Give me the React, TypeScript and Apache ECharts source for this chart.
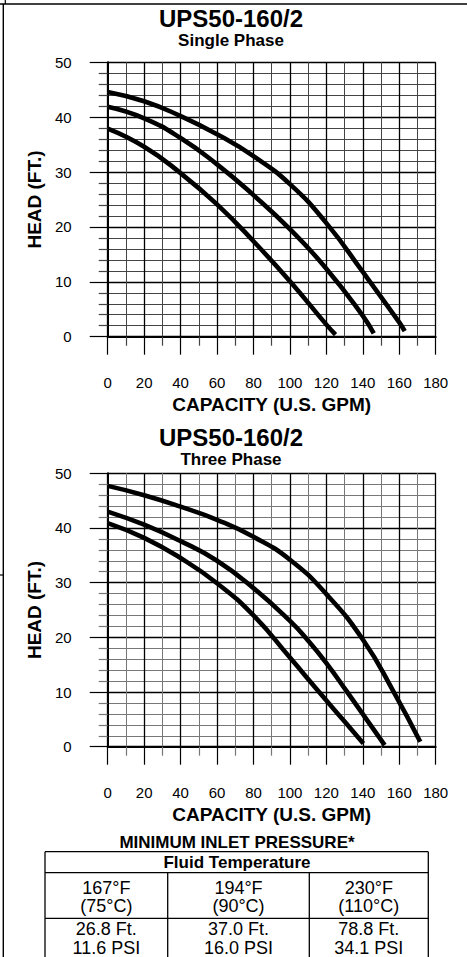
import React, { useEffect, useRef } from "react";
import * as echarts from "echarts";

// ---------- DATA ----------
const modelName = "UPS50-160/2";
const singleTitle = "Single Phase";
const threeTitle = "Three Phase";
const xAxisName = "CAPACITY (U.S. GPM)";
const yAxisName = "HEAD (FT.)";

// Single phase curves (GPM, head ft)
const singleHighGpm = [0, 20, 40, 60, 80, 100, 120, 140, 160, 163];
const singleHighHead = [44.6, 42.9, 40.2, 36.9, 32.9, 27.8, 20.7, 11.8, 2.6, 1.0];
const singleMidGpm = [0, 20, 40, 60, 80, 100, 120, 140, 146];
const singleMidHead = [41.9, 39.8, 36.2, 31.4, 25.8, 19.6, 12.4, 3.8, 0.6];
const singleLowGpm = [0, 20, 40, 60, 80, 100, 120, 125];
const singleLowHead = [37.9, 34.6, 29.8, 24.1, 17.4, 10.1, 2.2, 0.4];

// Three phase curves
const threeHighGpm = [0, 20, 40, 60, 80, 100, 120, 140, 157, 171.5];
const threeHighHead = [47.7, 46.0, 43.9, 41.5, 38.4, 34.2, 27.9, 19.6, 10.0, 0.9];
const threeMidGpm = [0, 20, 40, 60, 80, 100, 110, 120, 131, 152];
const threeMidHead = [43.0, 40.6, 37.6, 34.0, 29.0, 23.0, 19.4, 15.3, 10.2, 0.3];
const threeLowGpm = [0, 20, 40, 60, 80, 100, 116, 130, 140.3];
const threeLowHead = [40.9, 38.2, 34.5, 29.9, 24.0, 16.3, 10.0, 4.6, 0.6];

// Minimum inlet pressure table
const tableTitle = "MINIMUM INLET PRESSURE*";
const tableHeader = "Fluid Temperature";
const tempF = ["167°F", "194°F", "230°F"];
const tempC = ["(75°C)", "(90°C)", "(110°C)"];
const headFt = ["26.8 Ft.", "37.0 Ft.", "78.8 Ft."];
const pressurePsi = ["11.6 PSI", "16.0 PSI", "34.1 PSI"];

// ---------- LAYOUT ----------
const FONT = '"Liberation Sans", Arial, Helvetica, sans-serif';
const W = 467;
const H = 957;

const pair = (xs: number[], ys: number[]) => xs.map((x, i) => [x, ys[i]]);

function axes(gridIndex: number, minorColor: string) {
  const xAxis = {
    type: "value",
    gridIndex,
    min: 0,
    max: 180,
    interval: 20,
    name: xAxisName,
    nameLocation: "middle",
    nameGap: 58,
    nameTextStyle: { fontFamily: FONT, fontSize: 19, fontWeight: "bold", color: "#000" },
    axisLine: { show: true, onZero: false, lineStyle: { color: "#000", width: 2 } },
    axisTick: { show: true, length: 18, lineStyle: { color: "#000", width: 1.2 } },
    minorTick: { show: true, splitNumber: 2, length: 9, lineStyle: { color: minorColor, width: 1.2 } },
    axisLabel: { margin: 38, fontFamily: FONT, fontSize: 15, color: "#000" },
    splitLine: { show: true, lineStyle: { color: "#000", width: 1.3 } },
    minorSplitLine: { show: true, lineStyle: { color: minorColor, width: 1 } },
  };
  const yAxis = {
    type: "value",
    gridIndex,
    min: 0,
    max: 50,
    interval: 10,
    name: yAxisName,
    nameLocation: "middle",
    nameRotate: 90,
    nameGap: 63,
    nameTextStyle: { fontFamily: FONT, fontSize: 19, fontWeight: "bold", color: "#000" },
    axisLine: { show: true, onZero: false, lineStyle: { color: "#000", width: 2 } },
    axisTick: { show: true, length: 18, lineStyle: { color: "#000", width: 1.2 } },
    minorTick: { show: true, splitNumber: 5, length: 9, lineStyle: { color: minorColor, width: 1.2 } },
    axisLabel: { margin: 36, fontFamily: FONT, fontSize: 15, color: "#000" },
    splitLine: { show: true, lineStyle: { color: "#000", width: 1.3 } },
    minorSplitLine: { show: true, lineStyle: { color: minorColor, width: 1 } },
  };
  return { xAxis, yAxis };
}

function curve(name: string, idx: number, xs: number[], ys: number[]) {
  return {
    type: "line",
    name,
    xAxisIndex: idx,
    yAxisIndex: idx,
    data: pair(xs, ys),
    smooth: 0.5,
    showSymbol: false,
    symbol: "none",
    silent: true,
    lineStyle: { color: "#000", width: 4.6 },
    z: 5,
  };
}

const text = (t: string, x: number, y: number, size: number, bold: boolean) => ({
  type: "text",
  x,
  y,
  silent: true,
  style: {
    text: t,
    fontFamily: FONT,
    fontSize: size,
    fontWeight: bold ? "bold" : "normal",
    fill: "#000",
    align: "center",
    verticalAlign: "middle",
  },
});

const line = (x1: number, y1: number, x2: number, y2: number, w = 1.3) => ({
  type: "line",
  silent: true,
  shape: { x1, y1, x2, y2 },
  style: { stroke: "#000", lineWidth: w },
});

export default function App() {
  const ref = useRef<HTMLDivElement>(null);

  useEffect(() => {
    document.body.style.margin = "0";
    if (!ref.current) return;
    const chart = echarts.init(ref.current, undefined, { renderer: "svg" });

    const a1 = axes(0, "#444");
    const a2 = axes(1, "#777");

    // table geometry
    const tL = 45, tR = 428.3, tTop = 851.7, tHead = 872.7, tRow = 918.3;
    const cols = [45, 167.7, 309.3, 428.3];
    const colCenters = [0, 1, 2].map((i) => (cols[i] + cols[i + 1]) / 2);

    const graphics: any[] = [
      // page frame
      line(0, 4, W, 4, 1.4),
      line(5.3, 0, 5.3, 4, 1.2),
      line(3.3, 4, 3.3, H, 1.4),
      line(0, 575, 3.3, 575, 1.2),
      // titles
      text(modelName, 231, 18.5, 24, true),
      text(singleTitle, 231, 40.5, 17, true),
      text(modelName, 231, 437, 24, true),
      text(threeTitle, 231, 459.5, 17, true),
      // table
      text(tableTitle, 237, 842, 17, true),
      line(tL, tTop, tR, tTop),
      line(tL, tHead, tR, tHead),
      line(tL, tRow, tR, tRow),
      line(tL, tTop, tL, H),
      line(tR, tTop, tR, H),
      line(cols[1], tHead, cols[1], H),
      line(cols[2], tHead, cols[2], H),
      text(tableHeader, 237, 862, 17, true),
    ];
    colCenters.forEach((cx, i) => {
      graphics.push(text(tempF[i], cx, 887.5, 18, false));
      graphics.push(text(tempC[i], cx, 906, 18, false));
      graphics.push(text(headFt[i], cx, 928.7, 18, false));
      graphics.push(text(pressurePsi[i], cx, 947.8, 18, false));
    });

    chart.setOption({
      animation: false,
      backgroundColor: "#fff",
      textStyle: { fontFamily: FONT },
      grid: [
        { left: 107.7, top: 62.3, width: 328, height: 274.4, containLabel: false },
        { left: 107.7, top: 473.3, width: 328, height: 273.4, containLabel: false },
      ],
      xAxis: [a1.xAxis, a2.xAxis],
      yAxis: [a1.yAxis, a2.yAxis],
      series: [
        curve("Single phase speed 3", 0, singleHighGpm, singleHighHead),
        curve("Single phase speed 2", 0, singleMidGpm, singleMidHead),
        curve("Single phase speed 1", 0, singleLowGpm, singleLowHead),
        curve("Three phase speed 3", 1, threeHighGpm, threeHighHead),
        curve("Three phase speed 2", 1, threeMidGpm, threeMidHead),
        curve("Three phase speed 1", 1, threeLowGpm, threeLowHead),
      ],
      graphic: graphics,
    } as any);

    return () => chart.dispose();
  }, []);

  return <div ref={ref} style={{ width: W, height: H, background: "#fff" }} />;
}
